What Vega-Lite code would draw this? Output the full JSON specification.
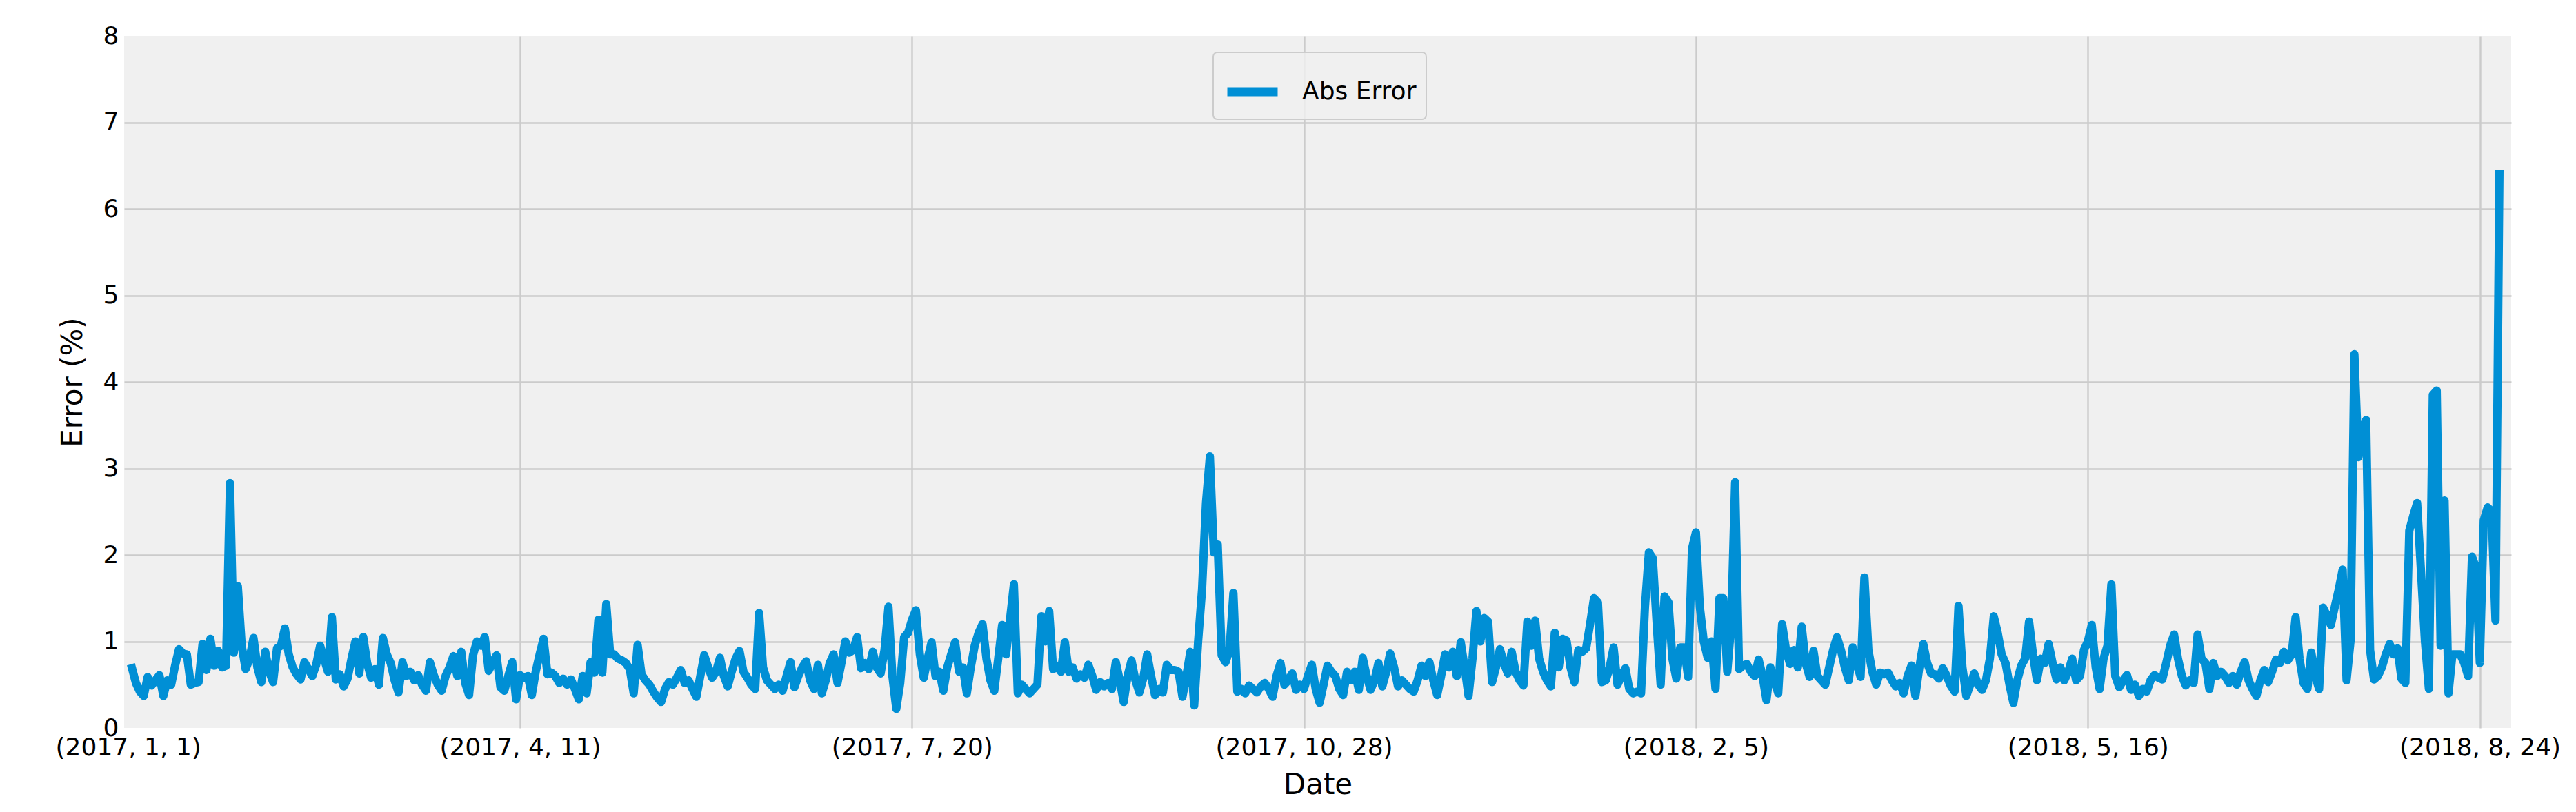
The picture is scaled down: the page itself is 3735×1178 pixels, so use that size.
{
"$schema": "https://vega.github.io/schema/vega-lite/v6.json",
"width": 3461,
"height": 1004,
"autosize": {"type": "none"},
"padding": {"left": 180, "top": 52, "right": 94, "bottom": 122},
"background": "white",
"config": {"view": {"fill": "#f0f0f0", "stroke": null}, "font": "DejaVu Sans"},
"data": {"values": [
{"date":"2017-01-02","error":0.69},{"date":"2017-01-03","error":0.52},{"date":"2017-01-04","error":0.42},{"date":"2017-01-05","error":0.37},{"date":"2017-01-06","error":0.59},{"date":"2017-01-07","error":0.49},{"date":"2017-01-08","error":0.55},{"date":"2017-01-09","error":0.61},{"date":"2017-01-10","error":0.37},{"date":"2017-01-11","error":0.55},{"date":"2017-01-12","error":0.50},{"date":"2017-01-13","error":0.72},{"date":"2017-01-14","error":0.91},{"date":"2017-01-15","error":0.86},{"date":"2017-01-16","error":0.85},{"date":"2017-01-17","error":0.50},{"date":"2017-01-18","error":0.52},{"date":"2017-01-19","error":0.53},{"date":"2017-01-20","error":0.97},{"date":"2017-01-21","error":0.67},{"date":"2017-01-22","error":1.03},{"date":"2017-01-23","error":0.72},{"date":"2017-01-24","error":0.89},{"date":"2017-01-25","error":0.70},{"date":"2017-01-26","error":0.72},{"date":"2017-01-27","error":2.83},{"date":"2017-01-28","error":0.87},{"date":"2017-01-29","error":1.64},{"date":"2017-01-30","error":0.95},{"date":"2017-01-31","error":0.68},
{"date":"2017-02-01","error":0.80},{"date":"2017-02-02","error":1.04},{"date":"2017-02-03","error":0.70},{"date":"2017-02-04","error":0.53},{"date":"2017-02-05","error":0.88},{"date":"2017-02-06","error":0.65},{"date":"2017-02-07","error":0.53},{"date":"2017-02-08","error":0.92},{"date":"2017-02-09","error":0.95},{"date":"2017-02-10","error":1.15},{"date":"2017-02-11","error":0.85},{"date":"2017-02-12","error":0.70},{"date":"2017-02-13","error":0.62},{"date":"2017-02-14","error":0.56},{"date":"2017-02-15","error":0.76},{"date":"2017-02-16","error":0.68},{"date":"2017-02-17","error":0.60},{"date":"2017-02-18","error":0.73},{"date":"2017-02-19","error":0.95},{"date":"2017-02-20","error":0.80},{"date":"2017-02-21","error":0.65},{"date":"2017-02-22","error":1.28},{"date":"2017-02-23","error":0.56},{"date":"2017-02-24","error":0.62},{"date":"2017-02-25","error":0.48},{"date":"2017-02-26","error":0.57},{"date":"2017-02-27","error":0.80},{"date":"2017-02-28","error":1.00},
{"date":"2017-03-01","error":0.63},{"date":"2017-03-02","error":1.05},{"date":"2017-03-03","error":0.75},{"date":"2017-03-04","error":0.58},{"date":"2017-03-05","error":0.68},{"date":"2017-03-06","error":0.50},{"date":"2017-03-07","error":1.04},{"date":"2017-03-08","error":0.85},{"date":"2017-03-09","error":0.75},{"date":"2017-03-10","error":0.55},{"date":"2017-03-11","error":0.41},{"date":"2017-03-12","error":0.76},{"date":"2017-03-13","error":0.60},{"date":"2017-03-14","error":0.65},{"date":"2017-03-15","error":0.55},{"date":"2017-03-16","error":0.61},{"date":"2017-03-17","error":0.50},{"date":"2017-03-18","error":0.43},{"date":"2017-03-19","error":0.76},{"date":"2017-03-20","error":0.61},{"date":"2017-03-21","error":0.50},{"date":"2017-03-22","error":0.43},{"date":"2017-03-23","error":0.60},{"date":"2017-03-24","error":0.70},{"date":"2017-03-25","error":0.83},{"date":"2017-03-26","error":0.60},{"date":"2017-03-27","error":0.88},{"date":"2017-03-28","error":0.52},{"date":"2017-03-29","error":0.38},{"date":"2017-03-30","error":0.84},{"date":"2017-03-31","error":1.00},
{"date":"2017-04-01","error":0.95},{"date":"2017-04-02","error":1.05},{"date":"2017-04-03","error":0.66},{"date":"2017-04-04","error":0.75},{"date":"2017-04-05","error":0.84},{"date":"2017-04-06","error":0.47},{"date":"2017-04-07","error":0.43},{"date":"2017-04-08","error":0.60},{"date":"2017-04-09","error":0.76},{"date":"2017-04-10","error":0.33},{"date":"2017-04-11","error":0.61},{"date":"2017-04-12","error":0.58},{"date":"2017-04-13","error":0.60},{"date":"2017-04-14","error":0.38},{"date":"2017-04-15","error":0.65},{"date":"2017-04-16","error":0.85},{"date":"2017-04-17","error":1.03},{"date":"2017-04-18","error":0.62},{"date":"2017-04-19","error":0.64},{"date":"2017-04-20","error":0.60},{"date":"2017-04-21","error":0.52},{"date":"2017-04-22","error":0.57},{"date":"2017-04-23","error":0.50},{"date":"2017-04-24","error":0.56},{"date":"2017-04-25","error":0.45},{"date":"2017-04-26","error":0.33},{"date":"2017-04-27","error":0.60},{"date":"2017-04-28","error":0.40},{"date":"2017-04-29","error":0.76},{"date":"2017-04-30","error":0.64},
{"date":"2017-05-01","error":1.25},{"date":"2017-05-02","error":0.64},{"date":"2017-05-03","error":1.43},{"date":"2017-05-04","error":0.85},{"date":"2017-05-05","error":0.85},{"date":"2017-05-06","error":0.80},{"date":"2017-05-07","error":0.78},{"date":"2017-05-08","error":0.75},{"date":"2017-05-09","error":0.68},{"date":"2017-05-10","error":0.40},{"date":"2017-05-11","error":0.96},{"date":"2017-05-12","error":0.62},{"date":"2017-05-13","error":0.55},{"date":"2017-05-14","error":0.50},{"date":"2017-05-15","error":0.42},{"date":"2017-05-16","error":0.35},{"date":"2017-05-17","error":0.30},{"date":"2017-05-18","error":0.45},{"date":"2017-05-19","error":0.53},{"date":"2017-05-20","error":0.50},{"date":"2017-05-21","error":0.58},{"date":"2017-05-22","error":0.67},{"date":"2017-05-23","error":0.52},{"date":"2017-05-24","error":0.55},{"date":"2017-05-25","error":0.45},{"date":"2017-05-26","error":0.36},{"date":"2017-05-27","error":0.60},{"date":"2017-05-28","error":0.84},{"date":"2017-05-29","error":0.70},{"date":"2017-05-30","error":0.58},{"date":"2017-05-31","error":0.65},
{"date":"2017-06-01","error":0.81},{"date":"2017-06-02","error":0.60},{"date":"2017-06-03","error":0.48},{"date":"2017-06-04","error":0.65},{"date":"2017-06-05","error":0.80},{"date":"2017-06-06","error":0.89},{"date":"2017-06-07","error":0.65},{"date":"2017-06-08","error":0.58},{"date":"2017-06-09","error":0.50},{"date":"2017-06-10","error":0.45},{"date":"2017-06-11","error":1.33},{"date":"2017-06-12","error":0.70},{"date":"2017-06-13","error":0.55},{"date":"2017-06-14","error":0.50},{"date":"2017-06-15","error":0.45},{"date":"2017-06-16","error":0.50},{"date":"2017-06-17","error":0.43},{"date":"2017-06-18","error":0.60},{"date":"2017-06-19","error":0.76},{"date":"2017-06-20","error":0.47},{"date":"2017-06-21","error":0.60},{"date":"2017-06-22","error":0.70},{"date":"2017-06-23","error":0.77},{"date":"2017-06-24","error":0.55},{"date":"2017-06-25","error":0.45},{"date":"2017-06-26","error":0.73},{"date":"2017-06-27","error":0.40},{"date":"2017-06-28","error":0.55},{"date":"2017-06-29","error":0.75},{"date":"2017-06-30","error":0.85},
{"date":"2017-07-01","error":0.52},{"date":"2017-07-02","error":0.75},{"date":"2017-07-03","error":1.00},{"date":"2017-07-04","error":0.87},{"date":"2017-07-05","error":0.90},{"date":"2017-07-06","error":1.05},{"date":"2017-07-07","error":0.69},{"date":"2017-07-08","error":0.75},{"date":"2017-07-09","error":0.68},{"date":"2017-07-10","error":0.88},{"date":"2017-07-11","error":0.70},{"date":"2017-07-12","error":0.63},{"date":"2017-07-13","error":0.90},{"date":"2017-07-14","error":1.40},{"date":"2017-07-15","error":0.60},{"date":"2017-07-16","error":0.22},{"date":"2017-07-17","error":0.52},{"date":"2017-07-18","error":1.05},{"date":"2017-07-19","error":1.10},{"date":"2017-07-20","error":1.25},{"date":"2017-07-21","error":1.36},{"date":"2017-07-22","error":0.85},{"date":"2017-07-23","error":0.58},{"date":"2017-07-24","error":0.80},{"date":"2017-07-25","error":0.99},{"date":"2017-07-26","error":0.60},{"date":"2017-07-27","error":0.65},{"date":"2017-07-28","error":0.43},{"date":"2017-07-29","error":0.70},{"date":"2017-07-30","error":0.85},{"date":"2017-07-31","error":0.99},
{"date":"2017-08-01","error":0.65},{"date":"2017-08-02","error":0.70},{"date":"2017-08-03","error":0.40},{"date":"2017-08-04","error":0.70},{"date":"2017-08-05","error":0.95},{"date":"2017-08-06","error":1.10},{"date":"2017-08-07","error":1.20},{"date":"2017-08-08","error":0.80},{"date":"2017-08-09","error":0.55},{"date":"2017-08-10","error":0.43},{"date":"2017-08-11","error":0.80},{"date":"2017-08-12","error":1.19},{"date":"2017-08-13","error":0.85},{"date":"2017-08-14","error":1.25},{"date":"2017-08-15","error":1.66},{"date":"2017-08-16","error":0.40},{"date":"2017-08-17","error":0.50},{"date":"2017-08-18","error":0.45},{"date":"2017-08-19","error":0.40},{"date":"2017-08-20","error":0.45},{"date":"2017-08-21","error":0.50},{"date":"2017-08-22","error":1.29},{"date":"2017-08-23","error":1.00},{"date":"2017-08-24","error":1.35},{"date":"2017-08-25","error":0.68},{"date":"2017-08-26","error":0.72},{"date":"2017-08-27","error":0.65},{"date":"2017-08-28","error":0.99},{"date":"2017-08-29","error":0.65},{"date":"2017-08-30","error":0.70},{"date":"2017-08-31","error":0.57},
{"date":"2017-09-01","error":0.62},{"date":"2017-09-02","error":0.58},{"date":"2017-09-03","error":0.73},{"date":"2017-09-04","error":0.60},{"date":"2017-09-05","error":0.44},{"date":"2017-09-06","error":0.53},{"date":"2017-09-07","error":0.48},{"date":"2017-09-08","error":0.52},{"date":"2017-09-09","error":0.45},{"date":"2017-09-10","error":0.76},{"date":"2017-09-11","error":0.55},{"date":"2017-09-12","error":0.30},{"date":"2017-09-13","error":0.60},{"date":"2017-09-14","error":0.78},{"date":"2017-09-15","error":0.55},{"date":"2017-09-16","error":0.41},{"date":"2017-09-17","error":0.57},{"date":"2017-09-18","error":0.85},{"date":"2017-09-19","error":0.60},{"date":"2017-09-20","error":0.38},{"date":"2017-09-21","error":0.45},{"date":"2017-09-22","error":0.41},{"date":"2017-09-23","error":0.73},{"date":"2017-09-24","error":0.67},{"date":"2017-09-25","error":0.67},{"date":"2017-09-26","error":0.65},{"date":"2017-09-27","error":0.36},{"date":"2017-09-28","error":0.60},{"date":"2017-09-29","error":0.88},{"date":"2017-09-30","error":0.26},
{"date":"2017-10-01","error":1.00},{"date":"2017-10-02","error":1.60},{"date":"2017-10-03","error":2.60},{"date":"2017-10-04","error":3.14},{"date":"2017-10-05","error":2.03},{"date":"2017-10-06","error":2.12},{"date":"2017-10-07","error":0.84},{"date":"2017-10-08","error":0.76},{"date":"2017-10-09","error":0.90},{"date":"2017-10-10","error":1.56},{"date":"2017-10-11","error":0.42},{"date":"2017-10-12","error":0.45},{"date":"2017-10-13","error":0.40},{"date":"2017-10-14","error":0.49},{"date":"2017-10-15","error":0.45},{"date":"2017-10-16","error":0.41},{"date":"2017-10-17","error":0.48},{"date":"2017-10-18","error":0.52},{"date":"2017-10-19","error":0.45},{"date":"2017-10-20","error":0.36},{"date":"2017-10-21","error":0.60},{"date":"2017-10-22","error":0.75},{"date":"2017-10-23","error":0.50},{"date":"2017-10-24","error":0.55},{"date":"2017-10-25","error":0.63},{"date":"2017-10-26","error":0.44},{"date":"2017-10-27","error":0.50},{"date":"2017-10-28","error":0.45},{"date":"2017-10-29","error":0.60},{"date":"2017-10-30","error":0.73},{"date":"2017-10-31","error":0.45},
{"date":"2017-11-01","error":0.29},{"date":"2017-11-02","error":0.50},{"date":"2017-11-03","error":0.72},{"date":"2017-11-04","error":0.65},{"date":"2017-11-05","error":0.60},{"date":"2017-11-06","error":0.45},{"date":"2017-11-07","error":0.38},{"date":"2017-11-08","error":0.65},{"date":"2017-11-09","error":0.55},{"date":"2017-11-10","error":0.65},{"date":"2017-11-11","error":0.44},{"date":"2017-11-12","error":0.81},{"date":"2017-11-13","error":0.60},{"date":"2017-11-14","error":0.44},{"date":"2017-11-15","error":0.55},{"date":"2017-11-16","error":0.75},{"date":"2017-11-17","error":0.48},{"date":"2017-11-18","error":0.65},{"date":"2017-11-19","error":0.86},{"date":"2017-11-20","error":0.70},{"date":"2017-11-21","error":0.48},{"date":"2017-11-22","error":0.55},{"date":"2017-11-23","error":0.50},{"date":"2017-11-24","error":0.45},{"date":"2017-11-25","error":0.42},{"date":"2017-11-26","error":0.55},{"date":"2017-11-27","error":0.72},{"date":"2017-11-28","error":0.60},{"date":"2017-11-29","error":0.76},{"date":"2017-11-30","error":0.55},
{"date":"2017-12-01","error":0.38},{"date":"2017-12-02","error":0.60},{"date":"2017-12-03","error":0.85},{"date":"2017-12-04","error":0.70},{"date":"2017-12-05","error":0.88},{"date":"2017-12-06","error":0.60},{"date":"2017-12-07","error":0.99},{"date":"2017-12-08","error":0.70},{"date":"2017-12-09","error":0.37},{"date":"2017-12-10","error":0.80},{"date":"2017-12-11","error":1.35},{"date":"2017-12-12","error":1.00},{"date":"2017-12-13","error":1.27},{"date":"2017-12-14","error":1.23},{"date":"2017-12-15","error":0.53},{"date":"2017-12-16","error":0.70},{"date":"2017-12-17","error":0.91},{"date":"2017-12-18","error":0.75},{"date":"2017-12-19","error":0.63},{"date":"2017-12-20","error":0.88},{"date":"2017-12-21","error":0.65},{"date":"2017-12-22","error":0.55},{"date":"2017-12-23","error":0.49},{"date":"2017-12-24","error":1.23},{"date":"2017-12-25","error":0.95},{"date":"2017-12-26","error":1.24},{"date":"2017-12-27","error":0.80},{"date":"2017-12-28","error":0.65},{"date":"2017-12-29","error":0.55},{"date":"2017-12-30","error":0.48},{"date":"2017-12-31","error":1.10},
{"date":"2018-01-01","error":0.70},{"date":"2018-01-02","error":1.03},{"date":"2018-01-03","error":1.01},{"date":"2018-01-04","error":0.70},{"date":"2018-01-05","error":0.53},{"date":"2018-01-06","error":0.90},{"date":"2018-01-07","error":0.88},{"date":"2018-01-08","error":0.92},{"date":"2018-01-09","error":1.20},{"date":"2018-01-10","error":1.50},{"date":"2018-01-11","error":1.45},{"date":"2018-01-12","error":0.53},{"date":"2018-01-13","error":0.55},{"date":"2018-01-14","error":0.70},{"date":"2018-01-15","error":0.93},{"date":"2018-01-16","error":0.50},{"date":"2018-01-17","error":0.60},{"date":"2018-01-18","error":0.69},{"date":"2018-01-19","error":0.45},{"date":"2018-01-20","error":0.40},{"date":"2018-01-21","error":0.42},{"date":"2018-01-22","error":0.40},{"date":"2018-01-23","error":1.40},{"date":"2018-01-24","error":2.03},{"date":"2018-01-25","error":1.96},{"date":"2018-01-26","error":1.20},{"date":"2018-01-27","error":0.50},{"date":"2018-01-28","error":1.52},{"date":"2018-01-29","error":1.45},{"date":"2018-01-30","error":0.80},{"date":"2018-01-31","error":0.57},
{"date":"2018-02-01","error":0.93},{"date":"2018-02-02","error":0.93},{"date":"2018-02-03","error":0.59},{"date":"2018-02-04","error":2.07},{"date":"2018-02-05","error":2.26},{"date":"2018-02-06","error":1.40},{"date":"2018-02-07","error":1.00},{"date":"2018-02-08","error":0.81},{"date":"2018-02-09","error":1.00},{"date":"2018-02-10","error":0.45},{"date":"2018-02-11","error":1.50},{"date":"2018-02-12","error":1.50},{"date":"2018-02-13","error":0.65},{"date":"2018-02-14","error":1.20},{"date":"2018-02-15","error":2.84},{"date":"2018-02-16","error":0.68},{"date":"2018-02-17","error":0.72},{"date":"2018-02-18","error":0.74},{"date":"2018-02-19","error":0.65},{"date":"2018-02-20","error":0.60},{"date":"2018-02-21","error":0.79},{"date":"2018-02-22","error":0.60},{"date":"2018-02-23","error":0.32},{"date":"2018-02-24","error":0.70},{"date":"2018-02-25","error":0.55},{"date":"2018-02-26","error":0.40},{"date":"2018-02-27","error":1.20},{"date":"2018-02-28","error":0.90},
{"date":"2018-03-01","error":0.74},{"date":"2018-03-02","error":0.90},{"date":"2018-03-03","error":0.70},{"date":"2018-03-04","error":1.17},{"date":"2018-03-05","error":0.75},{"date":"2018-03-06","error":0.59},{"date":"2018-03-07","error":0.89},{"date":"2018-03-08","error":0.60},{"date":"2018-03-09","error":0.55},{"date":"2018-03-10","error":0.50},{"date":"2018-03-11","error":0.70},{"date":"2018-03-12","error":0.90},{"date":"2018-03-13","error":1.05},{"date":"2018-03-14","error":0.90},{"date":"2018-03-15","error":0.70},{"date":"2018-03-16","error":0.55},{"date":"2018-03-17","error":0.93},{"date":"2018-03-18","error":0.75},{"date":"2018-03-19","error":0.59},{"date":"2018-03-20","error":1.74},{"date":"2018-03-21","error":0.90},{"date":"2018-03-22","error":0.65},{"date":"2018-03-23","error":0.50},{"date":"2018-03-24","error":0.64},{"date":"2018-03-25","error":0.62},{"date":"2018-03-26","error":0.64},{"date":"2018-03-27","error":0.55},{"date":"2018-03-28","error":0.48},{"date":"2018-03-29","error":0.52},{"date":"2018-03-30","error":0.40},{"date":"2018-03-31","error":0.60},
{"date":"2018-04-01","error":0.72},{"date":"2018-04-02","error":0.37},{"date":"2018-04-03","error":0.70},{"date":"2018-04-04","error":0.97},{"date":"2018-04-05","error":0.75},{"date":"2018-04-06","error":0.63},{"date":"2018-04-07","error":0.62},{"date":"2018-04-08","error":0.57},{"date":"2018-04-09","error":0.69},{"date":"2018-04-10","error":0.60},{"date":"2018-04-11","error":0.49},{"date":"2018-04-12","error":0.42},{"date":"2018-04-13","error":1.41},{"date":"2018-04-14","error":0.70},{"date":"2018-04-15","error":0.37},{"date":"2018-04-16","error":0.50},{"date":"2018-04-17","error":0.63},{"date":"2018-04-18","error":0.50},{"date":"2018-04-19","error":0.44},{"date":"2018-04-20","error":0.55},{"date":"2018-04-21","error":0.80},{"date":"2018-04-22","error":1.29},{"date":"2018-04-23","error":1.10},{"date":"2018-04-24","error":0.85},{"date":"2018-04-25","error":0.75},{"date":"2018-04-26","error":0.50},{"date":"2018-04-27","error":0.29},{"date":"2018-04-28","error":0.55},{"date":"2018-04-29","error":0.72},{"date":"2018-04-30","error":0.80},
{"date":"2018-05-01","error":1.23},{"date":"2018-05-02","error":0.85},{"date":"2018-05-03","error":0.55},{"date":"2018-05-04","error":0.80},{"date":"2018-05-05","error":0.75},{"date":"2018-05-06","error":0.97},{"date":"2018-05-07","error":0.75},{"date":"2018-05-08","error":0.56},{"date":"2018-05-09","error":0.70},{"date":"2018-05-10","error":0.55},{"date":"2018-05-11","error":0.65},{"date":"2018-05-12","error":0.80},{"date":"2018-05-13","error":0.55},{"date":"2018-05-14","error":0.60},{"date":"2018-05-15","error":0.90},{"date":"2018-05-16","error":1.00},{"date":"2018-05-17","error":1.19},{"date":"2018-05-18","error":0.70},{"date":"2018-05-19","error":0.45},{"date":"2018-05-20","error":0.80},{"date":"2018-05-21","error":0.95},{"date":"2018-05-22","error":1.66},{"date":"2018-05-23","error":0.60},{"date":"2018-05-24","error":0.47},{"date":"2018-05-25","error":0.55},{"date":"2018-05-26","error":0.61},{"date":"2018-05-27","error":0.44},{"date":"2018-05-28","error":0.50},{"date":"2018-05-29","error":0.37},{"date":"2018-05-30","error":0.45},{"date":"2018-05-31","error":0.42},
{"date":"2018-06-01","error":0.55},{"date":"2018-06-02","error":0.61},{"date":"2018-06-03","error":0.58},{"date":"2018-06-04","error":0.56},{"date":"2018-06-05","error":0.75},{"date":"2018-06-06","error":0.95},{"date":"2018-06-07","error":1.08},{"date":"2018-06-08","error":0.80},{"date":"2018-06-09","error":0.60},{"date":"2018-06-10","error":0.49},{"date":"2018-06-11","error":0.55},{"date":"2018-06-12","error":0.52},{"date":"2018-06-13","error":1.08},{"date":"2018-06-14","error":0.80},{"date":"2018-06-15","error":0.75},{"date":"2018-06-16","error":0.45},{"date":"2018-06-17","error":0.75},{"date":"2018-06-18","error":0.60},{"date":"2018-06-19","error":0.65},{"date":"2018-06-20","error":0.60},{"date":"2018-06-21","error":0.52},{"date":"2018-06-22","error":0.60},{"date":"2018-06-23","error":0.50},{"date":"2018-06-24","error":0.65},{"date":"2018-06-25","error":0.76},{"date":"2018-06-26","error":0.55},{"date":"2018-06-27","error":0.45},{"date":"2018-06-28","error":0.37},{"date":"2018-06-29","error":0.55},{"date":"2018-06-30","error":0.67},
{"date":"2018-07-01","error":0.53},{"date":"2018-07-02","error":0.65},{"date":"2018-07-03","error":0.79},{"date":"2018-07-04","error":0.75},{"date":"2018-07-05","error":0.88},{"date":"2018-07-06","error":0.78},{"date":"2018-07-07","error":0.85},{"date":"2018-07-08","error":1.28},{"date":"2018-07-09","error":0.80},{"date":"2018-07-10","error":0.52},{"date":"2018-07-11","error":0.45},{"date":"2018-07-12","error":0.87},{"date":"2018-07-13","error":0.60},{"date":"2018-07-14","error":0.45},{"date":"2018-07-15","error":1.39},{"date":"2018-07-16","error":1.30},{"date":"2018-07-17","error":1.19},{"date":"2018-07-18","error":1.40},{"date":"2018-07-19","error":1.60},{"date":"2018-07-20","error":1.83},{"date":"2018-07-21","error":0.55},{"date":"2018-07-22","error":1.00},{"date":"2018-07-23","error":4.32},{"date":"2018-07-24","error":3.13},{"date":"2018-07-25","error":3.45},{"date":"2018-07-26","error":3.56},{"date":"2018-07-27","error":0.90},{"date":"2018-07-28","error":0.56},{"date":"2018-07-29","error":0.60},{"date":"2018-07-30","error":0.70},{"date":"2018-07-31","error":0.85},
{"date":"2018-08-01","error":0.97},{"date":"2018-08-02","error":0.85},{"date":"2018-08-03","error":0.92},{"date":"2018-08-04","error":0.57},{"date":"2018-08-05","error":0.52},{"date":"2018-08-06","error":2.28},{"date":"2018-08-07","error":2.45},{"date":"2018-08-08","error":2.60},{"date":"2018-08-09","error":1.80},{"date":"2018-08-10","error":1.00},{"date":"2018-08-11","error":0.45},{"date":"2018-08-12","error":3.85},{"date":"2018-08-13","error":3.90},{"date":"2018-08-14","error":0.95},{"date":"2018-08-15","error":2.63},{"date":"2018-08-16","error":0.40},{"date":"2018-08-17","error":0.85},{"date":"2018-08-18","error":0.85},{"date":"2018-08-19","error":0.85},{"date":"2018-08-20","error":0.75},{"date":"2018-08-21","error":0.60},{"date":"2018-08-22","error":1.98},{"date":"2018-08-23","error":1.85},{"date":"2018-08-24","error":0.75},{"date":"2018-08-25","error":2.40},{"date":"2018-08-26","error":2.55},{"date":"2018-08-27","error":2.50},{"date":"2018-08-28","error":1.24},{"date":"2018-08-29","error":6.40}
]},
"mark": {"type": "line", "strokeWidth": 12, "strokeJoin": "round", "strokeCap": "square"},
"encoding": {
  "x": {
    "field": "date", "type": "temporal",
    "scale": {"type": "utc", "domain": [{"year": 2016, "month": 12, "date": 31, "utc": true}, {"year": 2018, "month": 9, "date": 1, "utc": true}]},
    "axis": {
      "title": "Date",
      "values": [
        {"year": 2017, "month": 1, "date": 1, "utc": true},
        {"year": 2017, "month": 4, "date": 11, "utc": true},
        {"year": 2017, "month": 7, "date": 20, "utc": true},
        {"year": 2017, "month": 10, "date": 28, "utc": true},
        {"year": 2018, "month": 2, "date": 5, "utc": true},
        {"year": 2018, "month": 5, "date": 16, "utc": true},
        {"year": 2018, "month": 8, "date": 24, "utc": true}
      ],
      "labelExpr": "'(' + utcyear(datum.value) + ', ' + (utcmonth(datum.value) + 1) + ', ' + utcdate(datum.value) + ')'",
      "labelFont": "DejaVu Sans", "labelFontSize": 36, "labelColor": "black", "labelPadding": 11,
      "labelFlush": false, "labelOverlap": false, "labelLimit": 600,
      "domain": false, "ticks": false,
      "grid": true, "gridColor": "#cbcbcb", "gridWidth": 2.4,
      "gridOpacity": {"condition": {"test": "datum.value < 1483250000000", "value": 0}, "value": 1},
      "titleFont": "DejaVu Sans", "titleFontSize": 42, "titleFontWeight": "normal", "titleColor": "black", "titlePadding": 16
    }
  },
  "y": {
    "field": "error", "type": "quantitative",
    "scale": {"domain": [0, 8], "nice": false, "zero": true},
    "axis": {
      "title": "Error (%)",
      "values": [0, 1, 2, 3, 4, 5, 6, 7, 8],
      "labelFont": "DejaVu Sans", "labelFontSize": 36, "labelColor": "black", "labelPadding": 8,
      "labelFlush": false, "labelOverlap": false,
      "domain": false, "ticks": false,
      "grid": true, "gridColor": "#cbcbcb", "gridWidth": 2.4,
      "gridOpacity": {"condition": {"test": "datum.value == 0 || datum.value == 8", "value": 0}, "value": 1},
      "titleFont": "DejaVu Sans", "titleFontSize": 42, "titleFontWeight": "normal", "titleColor": "black", "titlePadding": 22
    }
  },
  "color": {
    "datum": "Abs Error",
    "scale": {"range": ["#008fd5"]},
    "legend": {
      "orient": "none", "legendX": 1579, "legendY": 24, "title": null,
      "labelFont": "DejaVu Sans", "labelFontSize": 36, "labelColor": "black", "labelOffset": 29, "labelLimit": 600,
      "symbolType": "stroke", "symbolSize": 5329, "symbolStrokeWidth": 13,
      "padding": 14, "fillColor": "rgba(240,240,240,0.8)", "strokeColor": "#cccccc", "cornerRadius": 6,
      "encode": {"legend": {"update": {"strokeWidth": {"value": 2}}}}
    }
  }
}
}
